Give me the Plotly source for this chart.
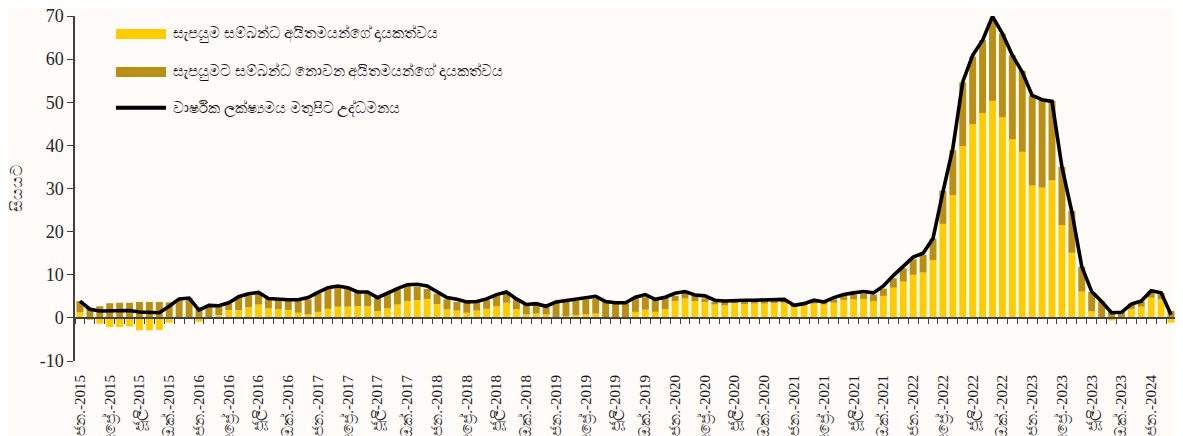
import plotly.graph_objects as go

# ---------------- data ----------------
month_names = ["ජන.", "පෙබ.", "මාර්.", "අප්‍රේ.", "මැයි", "ජූනි",
               "ජූලි", "අගෝ.", "සැප්.", "ඔක්.", "නොවැ.", "දෙසැ."]
start_year = 2015
n_months = 111  # Jan 2015 .. Mar 2024

categories = [f"{month_names[k % 12]}-{start_year + k // 12}" for k in range(n_months)]
tick_labels = [c for k, c in enumerate(categories) if k % 3 == 0]

# contribution of supply-related items (yellow)
supply_contrib = [
    1.35, -0.5, -1.35, -2.1, -2.1, -2.0, -2.9, -2.9, -2.8, -1.1, 0.1, 0.1,
    -0.9, 0.2, 0.6, 1.8, 1.8, 2.5, 3.1, 2.2, 2.0, 1.8, 1.2, 0.8,
    1.4, 2.1, 2.6, 2.6, 2.7, 2.7, 1.6, 2.2, 3.1, 3.9, 4.1, 4.4,
    3.2, 2.0, 1.7, 1.2, 1.7, 2.1, 2.7, 3.5, 2.0, 0.8, 1.0, 0.8,
    0.2, 0.4, 0.6, 0.8, 1.0, 0.1, -0.3, 0.0, 1.4, 1.9, 1.4, 2.0,
    3.9, 4.5, 3.9, 3.7, 3.1, 2.9, 3.4, 3.3, 3.3, 3.3, 3.4, 3.5,
    2.7, 2.9, 3.3, 3.1, 3.5, 4.1, 4.3, 4.4, 3.9, 5.1, 7.0, 8.4,
    10.0, 10.5, 13.4, 21.8, 28.5, 39.8, 44.9, 47.5, 50.3, 46.5, 41.4, 38.5,
    30.7, 30.2, 31.9, 21.5, 15.1, 6.1, 1.5, 0.1, -0.6, 0.2, 2.1, 2.6,
    4.7, 4.3, -1.1,
]

# contribution of non-supply-related items (dark gold)
nonsupply_contrib = [
    2.55, 2.3, 2.7, 3.4, 3.5, 3.5, 3.7, 3.7, 3.7, 3.6, 4.2, 4.6,
    2.5, 2.7, 2.05, 1.55, 2.9, 2.75, 2.8, 2.2, 2.1, 2.3, 2.7, 3.5,
    4.5, 4.9, 4.7, 4.2, 3.3, 3.3, 3.1, 3.5, 3.5, 3.5, 3.1, 2.3,
    2.4, 2.3, 2.0, 2.3, 2.0, 2.0, 2.4, 2.3, 2.3, 2.3, 2.1, 1.7,
    3.3, 3.3, 3.4, 3.5, 3.5, 3.7, 3.5, 3.4, 3.2, 2.9, 2.9, 2.7,
    1.2, 1.5, 1.2, 0.8, 0.6, 0.8, 0.5, 0.4, 0.6, 0.6, 0.5, 0.6,
    0.4, 0.6, 0.8, 0.6, 0.8, 1.0, 1.1, 1.2, 1.5, 1.7, 2.2, 3.1,
    3.6, 4.1, 5.0, 7.7, 10.4, 14.8, 15.7, 16.9, 18.7, 19.4, 19.5, 18.8,
    20.9, 20.3, 18.4, 13.5, 9.7, 5.8, 4.5, 3.7, 1.5, 1.2, 1.2, 1.2,
    1.4, 1.5, 1.6,
]

# year-on-year headline inflation (black line)
headline = [
    3.9, 2.0, 1.6, 1.6, 1.6, 1.7, 1.35, 1.2, 1.2, 2.7, 4.4, 4.6,
    1.8, 2.9, 2.8, 3.5, 4.9, 5.6, 5.9, 4.5, 4.3, 4.2, 4.2, 4.7,
    5.9, 7.0, 7.4, 7.0, 6.0, 6.0, 4.7, 5.8, 6.8, 7.7, 7.8, 7.4,
    6.1, 4.7, 4.3, 3.7, 3.8, 4.4, 5.4, 6.0, 4.4, 3.1, 3.3, 2.7,
    3.7, 4.0, 4.3, 4.5, 5.0, 3.8, 3.5, 3.5, 4.8, 5.4, 4.3, 4.8,
    5.7, 6.1, 5.3, 5.1, 4.1, 3.9, 4.1, 4.1, 4.1, 4.1, 4.1, 4.3,
    2.9, 3.3, 4.1, 3.7, 4.7, 5.4, 5.8, 6.1, 5.8, 7.4, 9.8, 12.0,
    14.1, 15.0, 18.4, 29.2, 39.3, 54.7, 60.9, 64.4, 69.9, 65.9, 60.9, 57.0,
    51.6, 50.6, 50.2, 35.0, 24.6, 11.9, 6.1, 3.8, 1.2, 1.3, 3.2, 3.9,
    6.3, 5.8, 0.7,
]

series_names = [
    "සැපයුම සම්බන්ධ අයිතමයන්ගේ දායකත්වය",
    "සැපයුමට සම්බන්ධ නොවන අයිතමයන්ගේ දායකත්වය",
    "වාර්ෂික ලක්ෂ්‍යමය මතුපිට උද්ධමනය",
]
y_title = "සියයට"
y_ticks = [-10, 0, 10, 20, 30, 40, 50, 60, 70]
y_tick_text = [str(v) for v in y_ticks]

# ---------------- styling ----------------
YELLOW = "#FFCC00"
GOLD = "#B98F14"
BG = "#FFFBF8"
AXIS = "#404040"
SERIF = "Liberation Serif, Times New Roman, serif"

month_index = list(range(n_months))

fig = go.Figure()
fig.add_trace(go.Bar(x=categories, y=supply_contrib, name=series_names[0],
                     marker=dict(color=YELLOW, line=dict(width=0)), showlegend=False))
fig.add_trace(go.Bar(x=categories, y=nonsupply_contrib, name=series_names[1],
                     marker=dict(color=GOLD, line=dict(width=0)), showlegend=False))
fig.add_trace(go.Scatter(x=month_index, y=headline, name=series_names[2], xaxis="x2",
                         mode="lines", line=dict(color="black", width=3.6),
                         showlegend=False))

rng = [-0.5, n_months - 0.5]
y_min, y_max = -10, 70
zero_pos = (0 - y_min) / (y_max - y_min)

fig.update_layout(
    width=1175, height=428,
    margin=dict(l=67, r=7, t=8, b=75),
    paper_bgcolor=BG, plot_bgcolor=BG,
    barmode="relative", bargap=0.3,
    font=dict(family=SERIF, color="#1a1a1a"),
    xaxis=dict(type="category", categoryorder="array", categoryarray=categories,
               range=rng, tickmode="array", tickvals=tick_labels, ticktext=tick_labels,
               tickangle=-90, tickfont=dict(family=SERIF, size=15, color="#1a1a1a"),
               ticks="", ticklabelstandoff=10, showline=False, showgrid=False,
               zeroline=False, automargin=False, ticklabeloverflow="allow"),
    xaxis2=dict(type="linear", range=rng, overlaying="x", anchor="free",
                position=zero_pos, tickmode="linear", tick0=-0.5, dtick=1,
                ticks="outside", ticklen=5, tickwidth=1.2, tickcolor=AXIS,
                showticklabels=False, showline=True, linecolor=AXIS, linewidth=1.5,
                showgrid=False, zeroline=False, automargin=False),
    yaxis=dict(range=[y_min, y_max], tickmode="array", tickvals=y_ticks,
               ticktext=y_tick_text, ticklabeloverflow="allow",
               ticks="outside", ticklen=6, tickwidth=1.2, tickcolor=AXIS,
               showline=True, linecolor=AXIS, linewidth=1.5, showgrid=False,
               zeroline=False, automargin=False,
               tickfont=dict(family=SERIF, size=18, color="#262626"),
               title=dict(text=y_title, font=dict(size=16, color="#1a1a1a"), standoff=17)),
)

# legend drawn in the top-left corner (swatches + labels)
lx0, lx1, ltx = 0.0372, 0.0827, 0.0872
rows = [(0.948, "bar", YELLOW), (0.838, "bar", GOLD), (0.734, "line", "black")]
for (yc, kind, col), label in zip(rows, series_names):
    if kind == "bar":
        fig.add_shape(type="rect", xref="paper", yref="paper", x0=lx0, x1=lx1,
                      y0=yc - 0.0145, y1=yc + 0.0145, fillcolor=col, line_width=0)
    else:
        fig.add_shape(type="line", xref="paper", yref="paper", x0=lx0, x1=lx1,
                      y0=yc, y1=yc, line=dict(color=col, width=3.8))
    fig.add_annotation(xref="paper", yref="paper", x=ltx, y=yc, text=label,
                       showarrow=False, xanchor="left", yanchor="middle",
                       font=dict(size=15, color="#111111"))

fig.write_html("out.html")
